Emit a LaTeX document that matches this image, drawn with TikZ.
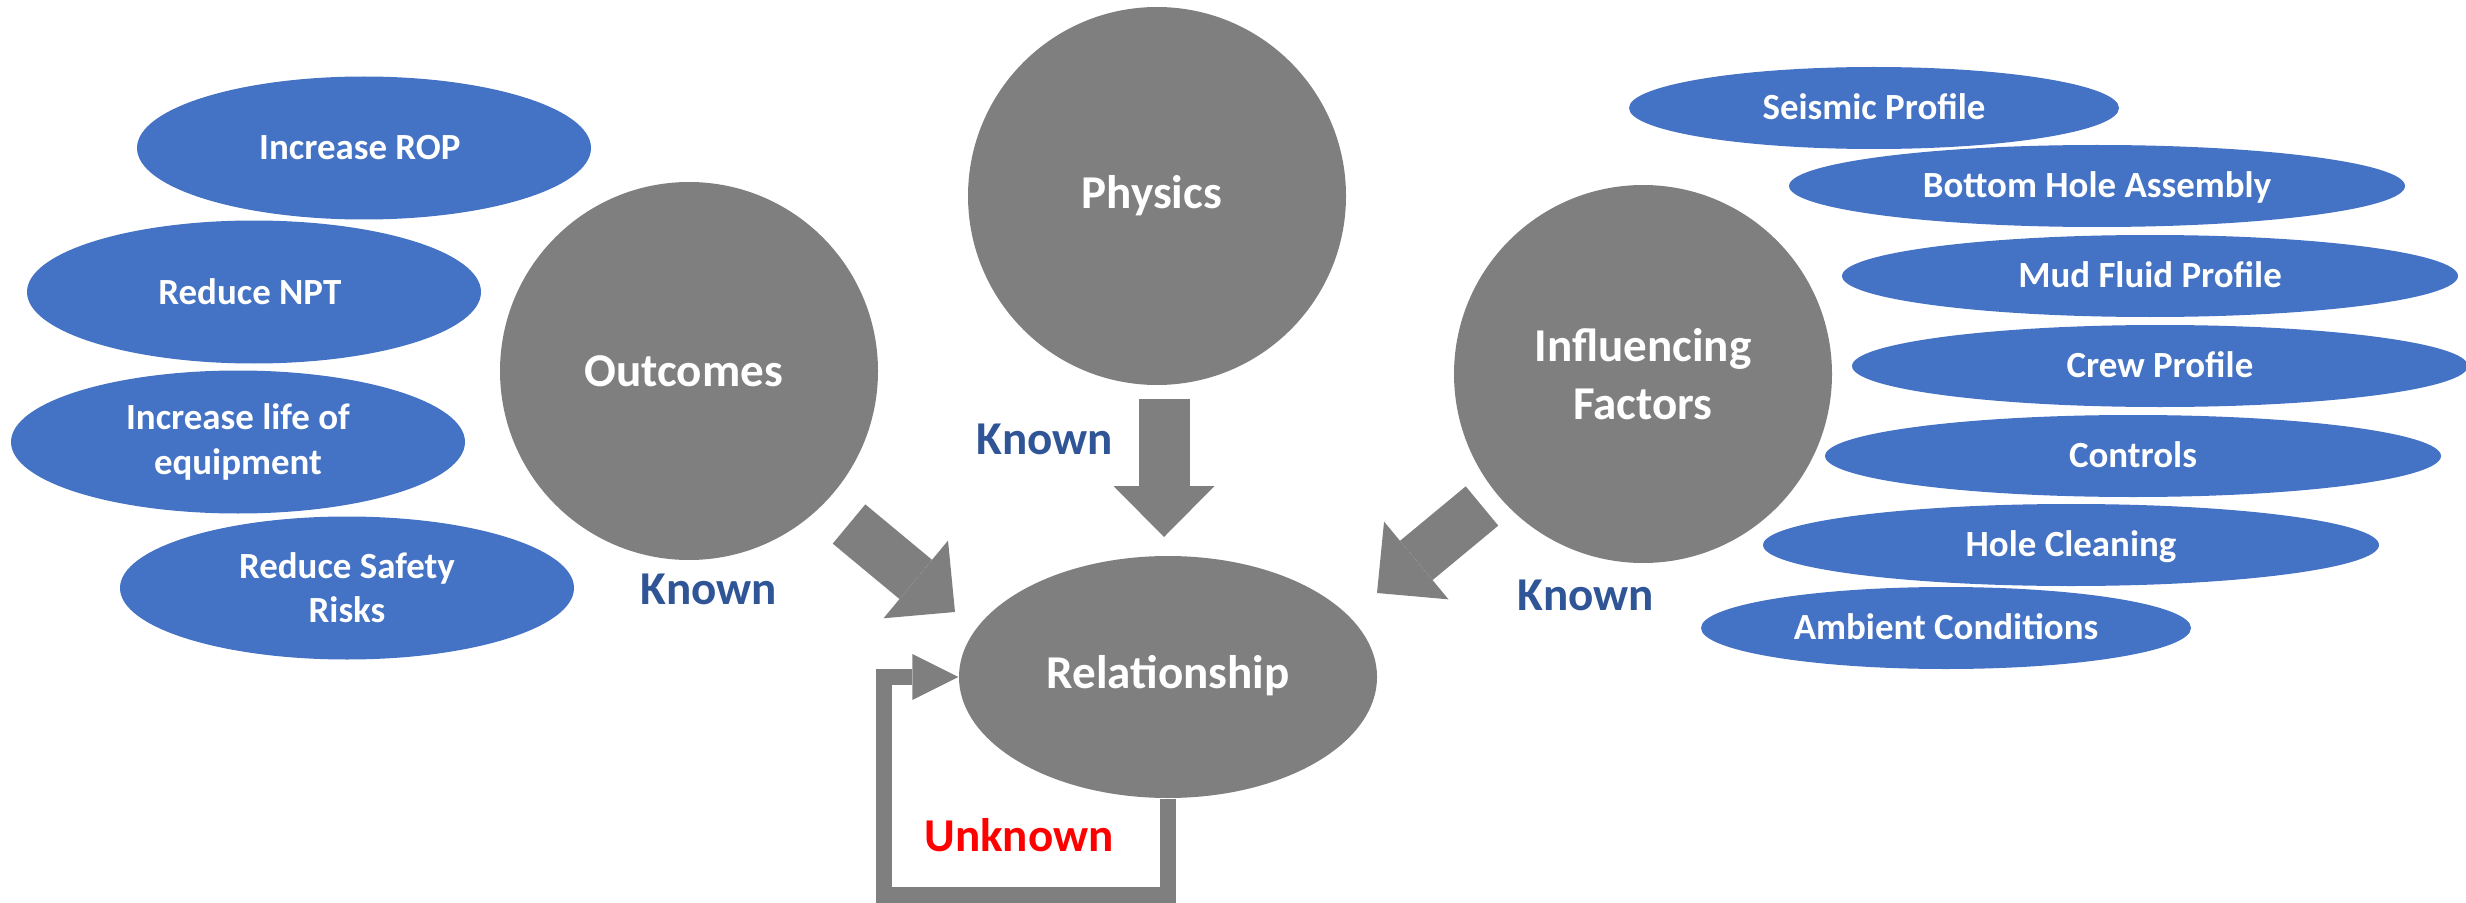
\documentclass[tikz,border=0pt]{standalone}
\usepackage{fontspec}
\setmainfont{Carlito}
\usepackage{tikz}
\usetikzlibrary{arrows.meta,positioning,calc,shapes.geometric}
\pgfdeclarelayer{bg}
\pgfsetlayers{bg,main}
\definecolor{discgray}{HTML}{7F7F7F}
\definecolor{bubbleblue}{HTML}{4472C4}
\definecolor{knownblue}{HTML}{2F5597}
\definecolor{unknownred}{HTML}{FF0000}

\tikzset{
  bigfont/.style={font=\bfseries\fontsize{13.4}{16.4}\selectfont},
  smallfont/.style={font=\bfseries\fontsize{10.5}{12.6}\selectfont},
  capc/.style={text height=0.64em, text depth=0pt},
  disc/.style={circle, fill=discgray, text=white, minimum size=3.78cm, inner sep=0pt, align=center, bigfont},
  relnode/.style={ellipse, fill=discgray, text=white, minimum width=4.18cm, minimum height=2.42cm, inner sep=0pt, bigfont, capc},
  outbubble/.style={ellipse, fill=bubbleblue, text=white, minimum width=4.54cm, minimum height=1.43cm, inner sep=0pt, align=center, smallfont},
  facbubble/.style={ellipse, fill=bubbleblue, text=white, minimum width=6.16cm, minimum height=0.82cm, inner sep=0pt, smallfont, capc},
  known/.style={text=knownblue, inner sep=0pt, bigfont, capc},
  fatarrow/.style={draw=discgray, line width=5.1mm, -{Triangle[length=5.1mm, width=10.1mm, line width=0pt]}},
  loopline/.style={draw=discgray, line width=1.57mm, -{Triangle[length=4.6mm, width=4.6mm, line width=0pt]}}
}

\begin{document}
\begin{tikzpicture}[x=0.1mm, y=-0.1mm]
    \useasboundingbox (0,0) rectangle (2466,903);

    % outcomes side
    \node [outbubble] (rop) at (364,148) { Increase ROP };
    \node [outbubble] (npt) at (254,292) { Reduce NPT };
    \node [outbubble] (life) at (238,442) { Increase life of\\equipment };
    \node [outbubble] (safety) at (347,588) { Reduce Safety\\Risks };

    % influencing factors side
    \node [facbubble, minimum width=4.9cm] (seismic) at (1874,108) { Seismic Profile };
    \node [facbubble] (bha) at (2097,186) { Bottom Hole Assembly };
    \node [facbubble] (mud) at (2150,276) { Mud Fluid Profile };
    \node [facbubble] (crew) at (2160,366) { Crew Profile };
    \node [facbubble] (controls) at (2133,456) { Controls };
    \node [facbubble] (cleaning) at (2071,545) { Hole Cleaning };
    \node [facbubble, minimum width=4.9cm] (ambient) at (1946,628) { Ambient Conditions };

    \node [disc] (outcomes) at (689,371) { Outcomes };
    \node [disc] (physics) at (1157,196) { Physics };
    \node [disc] (factors) at (1643,374) { Influencing\\Factors };
    \node [relnode] (rel) at (1168,677) { Relationship };

    \node [known] (k-out) at (709,593) { Known };
    \node [known] (k-phys) at (1045,443) { Known };
    \node [known] (k-fac) at (1586,599) { Known };
    \node [known, text=unknownred] (unknown) at (1019,840) { Unknown };

    \coordinate (out-tail) at (849,524);
    \coordinate (out-tip) at (955,612);
    \coordinate (phys-tail) at (1164,399);
    \coordinate (phys-tip) at (1164,537);
    \coordinate (fac-tail) at (1482,506);
    \coordinate (fac-tip) at (1377,593);

    \draw [fatarrow] (out-tail) -- (out-tip);
    \draw [fatarrow] (phys-tail) -- (phys-tip);
    \draw [fatarrow] (fac-tail) -- (fac-tip);

    \begin{pgfonlayer}{bg}    % feedback loop goes under the ellipse
        \draw [loopline] (rel.south) -- ++(0,96) -| ($(rel.west)+(-74,0)$) -- (rel.west);
    \end{pgfonlayer}

\end{tikzpicture}
\end{document}
